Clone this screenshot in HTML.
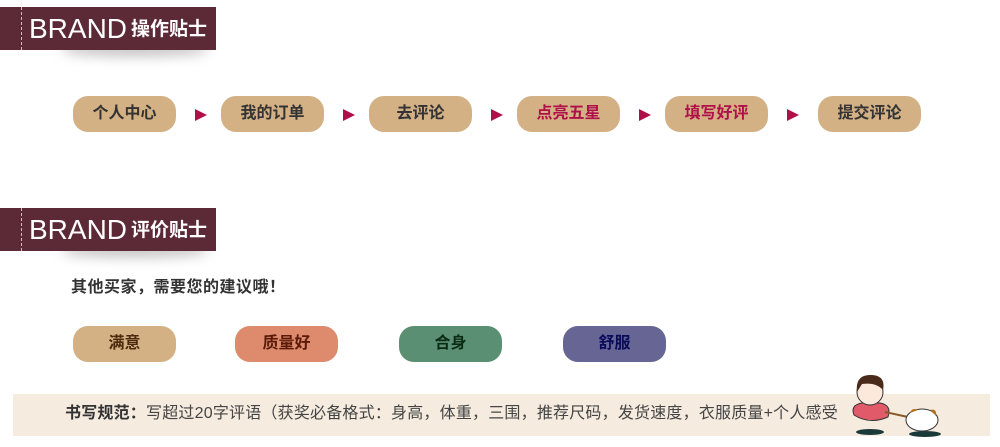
<!DOCTYPE html>
<html><head><meta charset="utf-8"><style>
body{margin:0;width:1000px;height:447px;background:#fff;position:relative;overflow:hidden;font-family:"Liberation Sans","Noto Sans CJK SC",sans-serif}
.ban{position:absolute;left:0;width:216px;height:43px;background:#5c2a36;color:#fff}
.ban:before{content:"";position:absolute;left:21px;top:0;bottom:0;border-left:1px dashed #d8b8c0}
.ban .t{position:absolute;left:29px;top:5px;font-size:28px;line-height:34px;letter-spacing:0px}
.ban .t b{font-size:19px;margin-left:4px;vertical-align:3px;letter-spacing:0}
.sh{position:absolute;left:60px;width:150px;height:18px;box-shadow:0 8px 14px -4px rgba(0,0,0,.35);border-radius:0 0 50% 50%}
.btn{position:absolute;width:103px;height:36px;border-radius:15px;background:#d4b185;text-align:center;line-height:36px;font-size:16px;font-weight:bold;color:#333}
.arr{position:absolute;top:109px;width:0;height:0;border-left:12px solid #b0104a;border-top:6px solid transparent;border-bottom:6px solid transparent}
</style></head><body>
<div class="sh" style="top:32px"></div>
<div class="ban" style="top:7px"><div class="t">BRAND<b>操作贴士</b></div></div>
<div class="btn" style="left:73px;top:96px">个人中心</div>
<div class="arr" style="left:195px"></div>
<div class="btn" style="left:221px;top:96px">我的订单</div>
<div class="arr" style="left:343px"></div>
<div class="btn" style="left:369px;top:96px">去评论</div>
<div class="arr" style="left:491px"></div>
<div class="btn" style="left:517px;top:96px;color:#b0104a">点亮五星</div>
<div class="arr" style="left:639px"></div>
<div class="btn" style="left:665px;top:96px;color:#b0104a">填写好评</div>
<div class="arr" style="left:787px"></div>
<div class="btn" style="left:818px;top:96px">提交评论</div>

<div class="sh" style="top:233px"></div>
<div class="ban" style="top:208px"><div class="t">BRAND<b>评价贴士</b></div></div>
<div style="position:absolute;left:71px;top:273px;font-size:16px;font-weight:bold;color:#333;letter-spacing:0.5px">其他买家，需要您的建议哦！</div>
<div class="btn" style="left:73px;top:326px;color:#4a2a0c">满意</div>
<div class="btn" style="left:235px;top:326px;background:#dd8b6c;color:#5a1a08">质量好</div>
<div class="btn" style="left:399px;top:326px;background:#5a8f73;color:#0a2a14">合身</div>
<div class="btn" style="left:563px;top:326px;background:#666594;color:#0a0a5a">舒服</div>

<div style="position:absolute;left:13px;top:394px;width:977px;height:42px;background:#f5ebdf"></div>
<div style="position:absolute;left:65px;top:404px;font-size:16px;line-height:20px;color:#444;white-space:nowrap;letter-spacing:0.2px"><b style="color:#333">书写规范：</b>写超过20字评语（获奖必备格式：身高，体重，三围，推荐尺码，发货速度，衣服质量+个人感受</div>

<svg style="position:absolute;left:840px;top:370px" width="110" height="70">
<ellipse cx="30" cy="62" rx="14" ry="3" fill="#1a3a3a"/>
<ellipse cx="85" cy="64" rx="16" ry="3" fill="#1a3a3a"/>
<path d="M14 45 Q10 35 22 33 L40 33 Q52 35 48 47 Q30 55 14 45Z" fill="#e05a6a" stroke="#333"/>
<circle cx="30" cy="22" r="13" fill="#fde8dc" stroke="#333"/>
<path d="M17 22 Q15 4 32 5 Q46 6 43 20 Q36 12 22 14Z" fill="#4a2a1a"/>
<line x1="45" y1="42" x2="68" y2="47" stroke="#8a5a2a" stroke-width="2"/>
<ellipse cx="82" cy="50" rx="16" ry="11" fill="#fff" stroke="#333"/>
<path d="M70 43 Q72 37 78 40Z" fill="#b07020"/><path d="M90 40 Q97 38 96 46Z" fill="#b07020"/>
</svg>
</body></html>
